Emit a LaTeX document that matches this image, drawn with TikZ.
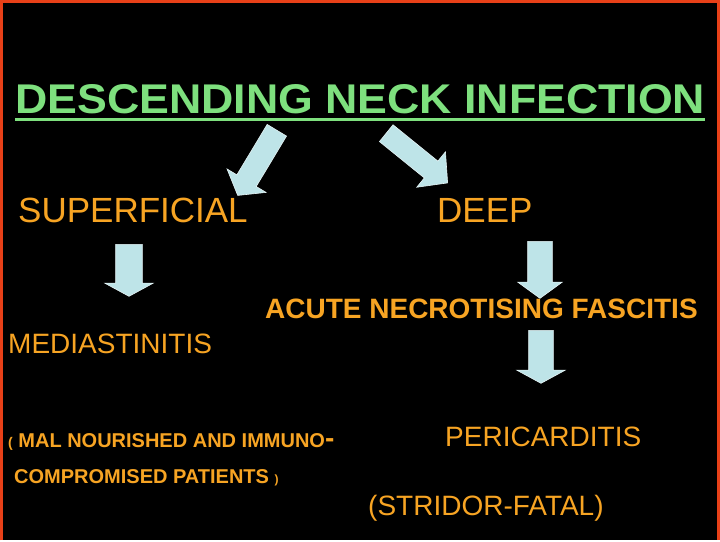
\documentclass[tikz,border=0pt]{standalone}
\usepackage{fontspec}
\setmainfont{Liberation Sans}
\usetikzlibrary{shapes.arrows}
\definecolor{titlegreen}{RGB}{126,224,126}
\definecolor{textorange}{RGB}{247,164,35}
\definecolor{arrowblue}{RGB}{190,228,232}
\definecolor{framered}{RGB}{232,64,24}

\begin{document}
\begin{tikzpicture}[x=1pt, y=-1pt,
         term/.style = {anchor=base west, inner sep=0pt, text=textorange,
         font=\fontsize{28}{30}\selectfont},
         bigterm/.style = {term, font=\fontsize{35}{38}\selectfont},
         boldterm/.style = {term, font=\bfseries\fontsize{28}{30}\selectfont},
         note/.style = {term, font=\bfseries\fontsize{20}{22}\selectfont},
         bigarrow/.style = {single arrow, fill=arrowblue, draw=arrowblue!40!white,
         line width=0.6pt, inner xsep=0pt, anchor=tail}]

   % slide background and frame
   \fill[black] (0,0) rectangle (720,540);
   \draw[framered, line width=3pt] (1.5,540) -- (1.5,1.5) -- (718.5,1.5) -- (718.5,540);

   % heading
   \node[anchor=base west, inner sep=0pt, text=titlegreen] (title) at (15,113)
      {\resizebox{690pt}{29pt}{\bfseries DESCENDING NECK INFECTION}};
   \draw[titlegreen, line width=3pt] ([yshift=-6pt]title.south west)
      -- ([yshift=-6pt]title.south east);

   % first level
   \node[bigterm] (sup)  at (18,222)  {SUPERFICIAL};
   \node[bigterm] (deep) at (437,222) {DEEP};

   % superficial branch
   \node[term] (med) at (8,353) {MEDIASTINITIS};
   \node[note] (mal) at (8,447)
      {{\fontsize{14}{16}\selectfont(} MAL NOURISHED AND IMMUNO{\fontsize{28}{30}\selectfont -}};
   \node[note] (comp) at (14,483)
      {COMPROMISED PATIENTS {\fontsize{12}{14}\selectfont)}};

   % deep branch
   \node[boldterm] (nec)   at (265,318) {ACUTE NECROTISING FASCITIS};
   \node[term]     (peri)  at (445,446) {PERICARDITIS};
   \node[term]     (strid) at (368,515) {(STRIDOR-FATAL)};

   % block arrows
   \node[bigarrow, inner ysep=11, minimum height=76, minimum width=45,
      single arrow head extend=11.5, single arrow tip angle=106, rotate=-121]
      (arrsup) at (277,130) {};
   \node[bigarrow, inner ysep=10.5, minimum height=79, minimum width=45,
      single arrow head extend=12, single arrow tip angle=94, rotate=-39]
      (arrdeep) at (386,133) {};
   \node[bigarrow, inner ysep=13, minimum height=52, minimum width=48,
      single arrow head extend=11, single arrow tip angle=123, rotate=-90]
      (arrmed) at (129,244) {};
   \node[bigarrow, inner ysep=12, minimum height=57, minimum width=44,
      single arrow head extend=10, single arrow tip angle=108, rotate=-90]
      (arrnec) at (540,241) {};
   \node[bigarrow, inner ysep=12, minimum height=53, minimum width=48,
      single arrow head extend=12, single arrow tip angle=123, rotate=-90]
      (arrperi) at (541,330) {};

\end{tikzpicture}
\end{document}
